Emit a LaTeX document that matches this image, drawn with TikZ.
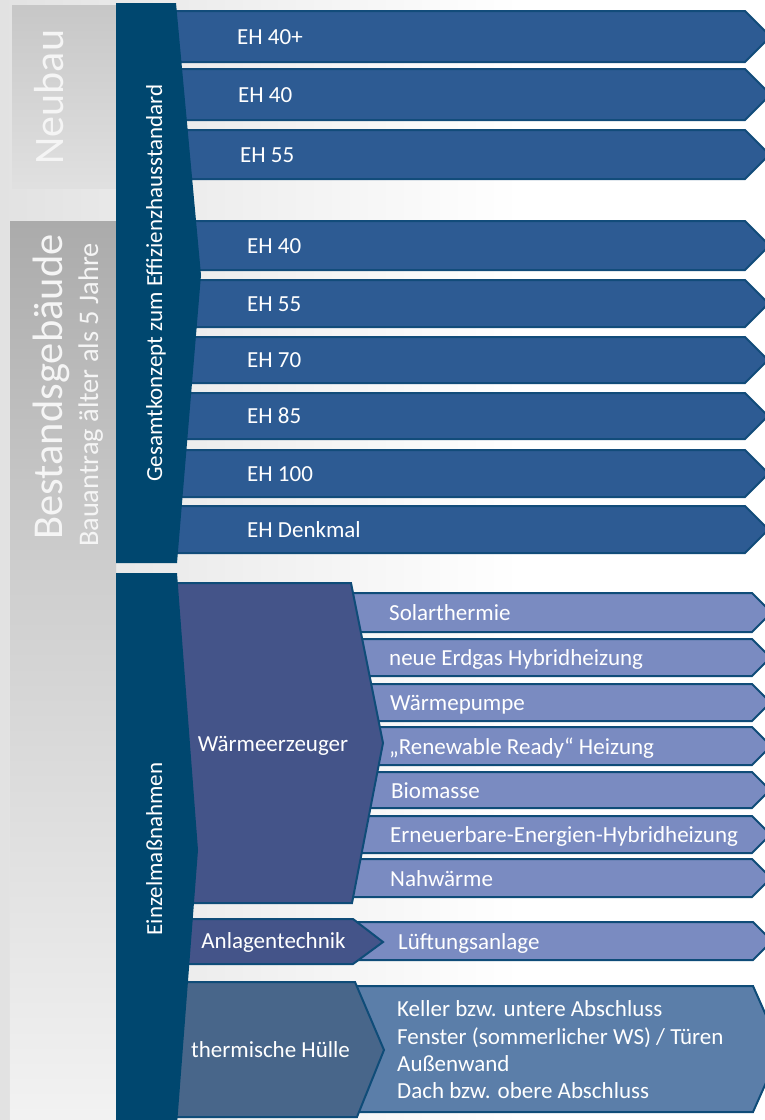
\documentclass[tikz,border=0pt]{standalone}
\usepackage{fontspec}
\setmainfont{Carlito}
\definecolor{barc}{HTML}{00476F}
\definecolor{ehfill}{HTML}{2D5B93}
\definecolor{ehline}{HTML}{124C7A}
\definecolor{subfill}{HTML}{7A8BC1}
\definecolor{subline}{HTML}{0F4C78}
\definecolor{wfill}{HTML}{445489}
\definecolor{thfill}{HTML}{48668A}
\definecolor{kfill}{HTML}{5B7EA9}
\definecolor{bgl}{HTML}{E2E2E2}
\newcommand\stdfnt{\fontsize{23}{27.5}\selectfont}
\newcommand\eharrow[5]{% #1 left x, #2 top, #3 bottom, #4 right x, #5 style
  \draw[#5] (#1,#2) -- (#4,#2) -- ({#4+(#3-#2)/2},{(#2+#3)/2}) -- (#4,#3) -- (#1,#3) -- cycle;}
\tikzset{
  ehbox/.style={fill=ehfill, draw=ehline, line width=2pt, line join=miter},
  subbox/.style={fill=subfill, draw=subline, line width=2pt, line join=miter},
  bigbox/.style={draw=subline, line width=2pt, line join=miter},
  lbl/.style={text=white, font=\stdfnt, anchor=base west, inner sep=0pt},
  vlbl/.style={text=white, font=\stdfnt, anchor=base, rotate=90, inner sep=0pt},
}
\begin{document}
\begin{tikzpicture}[x=1pt,y=-1pt]
\useasboundingbox (0,0) rectangle (764,1120);
% background
\fill[white] (0,0) rectangle (764,1120);
\shade[left color=bgl, right color=white] (0,0) rectangle (520,1120);
% grey side boxes
\shade[top color=black!22, bottom color=black!12] (12,5) rectangle (116,188);
\shade[top color=black!33, bottom color=black!19] (10,221) rectangle (116,580);
\shade[top color=black!19, bottom color=black!5] (10,580) rectangle (116,1120);
\node[anchor=base, rotate=90, inner sep=0pt, text=white!96!black, font=\fontsize{42}{48}\selectfont] (neubau) at (63,97) {Neubau};
\node[anchor=base, rotate=90, inner sep=0pt, text=white!96!black, font=\fontsize{42.5}{50}\selectfont] (bestand) at (62,387) {Bestandsgebäude};
\node[anchor=base, rotate=90, inner sep=0pt, text=white!96!black, font=\fontsize{28.4}{34}\selectfont] (bauantrag) at (98,395) {Bauantrag älter als 5 Jahre};
% EH arrows
\eharrow{150}{11}{62}{745}{ehbox}
\eharrow{150}{69}{120}{745}{ehbox}
\eharrow{150}{130}{179}{745}{ehbox}
\eharrow{150}{221}{270}{745}{ehbox}
\eharrow{150}{280}{327}{745}{ehbox}
\eharrow{150}{337}{383}{745}{ehbox}
\eharrow{150}{393}{439}{745}{ehbox}
\eharrow{150}{450}{497}{745}{ehbox}
\eharrow{150}{506}{553}{745}{ehbox}
% Gesamtkonzept bar
\fill[barc] (116,3) -- (176,3) -- (201,275) -- (177,563) -- (116,563) -- cycle;
% sub arrows
\eharrow{340}{593}{632}{752}{subbox}
\eharrow{340}{639}{676}{752}{subbox}
\eharrow{340}{684}{721}{752}{subbox}
\eharrow{340}{727}{765}{752}{subbox}
\eharrow{340}{772}{808}{752}{subbox}
\eharrow{340}{816}{853}{752}{subbox}
\eharrow{340}{859}{897}{752}{subbox}
\eharrow{340}{922}{960}{753}{subbox}
\draw[bigbox, fill=kfill] (350,986) -- (753,986) -- (781,1049) -- (753,1112) -- (350,1112) -- cycle;
% category blocks
\draw[bigbox, fill=wfill] (170,583) -- (351,583) -- (383,743) -- (352,903) -- (170,903) -- cycle;
\draw[bigbox, fill=wfill] (170,919) -- (353,919) -- (383,942) -- (353,964) -- (170,964) -- cycle;
\draw[bigbox, fill=thfill] (170,982) -- (355,982) -- (384,1050) -- (357,1117) -- (170,1117) -- cycle;
% Einzelmassnahmen bar
\fill[barc] (116,573) -- (177,573) -- (198,850) -- (177,1125) -- (116,1125) -- cycle;
% vertical labels
\node[vlbl] (gesamt) at (162,283) {Gesamtkonzept zum Effizienzhausstandard};
\node[vlbl] (einzel) at (162,849) {Einzelmaßnahmen};
% EH labels
\node[lbl] (n1) at (237,44) {EH 40+};
\node[lbl] (n2) at (238,102) {EH 40};
\node[lbl] (n3) at (240,162) {EH 55};
\node[lbl] (b1) at (247,253) {EH 40};
\node[lbl] (b2) at (247,311) {EH 55};
\node[lbl] (b3) at (247,367) {EH 70};
\node[lbl] (b4) at (247,423) {EH 85};
\node[lbl] (b5) at (247,481) {EH 100};
\node[lbl] (b6) at (247,537) {EH Denkmal};
% category labels
\node[lbl, anchor=base] (waerme) at (273,751) {Wärmeerzeuger};
\node[lbl, anchor=base] (anlagen) at (273.5,948) {Anlagentechnik};
\node[lbl, anchor=base] (huelle) at (270.5,1057) {thermische Hülle};
% sub labels
\node[lbl] (s1) at (389,620) {Solarthermie};
\node[lbl] (s2) at (389,665) {neue Erdgas Hybridheizung};
\node[lbl] (s3) at (390,710) {Wärmepumpe};
\node[lbl] (s4) at (389,754) {„Renewable Ready“ Heizung};
\node[lbl] (s5) at (391,798) {Biomasse};
\node[lbl] (s6) at (390,842) {Erneuerbare-Energien-Hybridheizung};
\node[lbl] (s7) at (390,886) {Nahwärme};
\node[lbl] (l1) at (398,949) {Lüftungsanlage};
\node[lbl] (k1) at (397,1016) {Keller bzw. untere Abschluss};
\node[lbl] (k2) at (397,1044) {Fenster (sommerlicher WS) / Türen};
\node[lbl] (k3) at (397,1071) {Außenwand};
\node[lbl] (k4) at (397,1098) {Dach bzw. obere Abschluss};
\end{tikzpicture}
\end{document}
